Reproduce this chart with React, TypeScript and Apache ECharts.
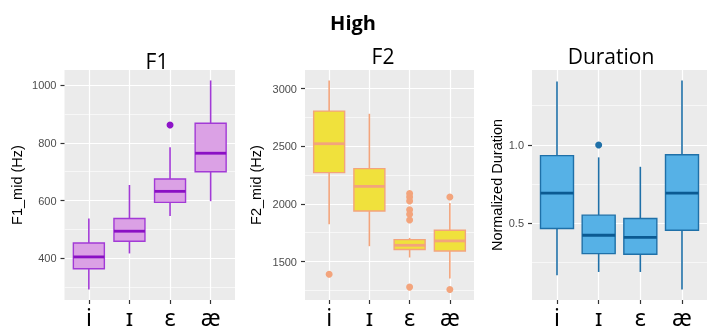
import React, { useEffect, useRef } from "react";
import * as echarts from "echarts";

const categories = ["i", "ɪ", "ɛ", "æ"];

// [min, Q1, median, Q3, max]
const f1Boxes = [
  [292, 364, 405, 453, 538],
  [417, 459, 494, 538, 654],
  [547, 594, 632, 675, 785],
  [598, 700, 764, 868, 1016],
];
const f1Outliers = [[2, 862]];
const f1Major = [400, 600, 800, 1000];
const f1Minor = [300, 500, 700, 900];

const f2Boxes = [
  [1823, 2271, 2522, 2805, 3071],
  [1633, 1938, 2152, 2306, 2782],
  [1535, 1604, 1641, 1690, 1705],
  [1353, 1592, 1679, 1771, 2008],
];
const f2Outliers = [
  [0, 1390],
  [2, 2090],
  [2, 2060],
  [2, 2025],
  [2, 1950],
  [2, 1910],
  [2, 1860],
  [2, 1278],
  [3, 2060],
  [3, 1257],
];
const f2Major = [1500, 2000, 2500, 3000];
const f2Minor = [1250, 1750, 2250, 2750];

const durBoxes = [
  [0.17, 0.468, 0.693, 0.932, 1.404],
  [0.191, 0.308, 0.425, 0.553, 0.921],
  [0.191, 0.304, 0.411, 0.532, 0.861],
  [0.079, 0.457, 0.693, 0.938, 1.411],
];
const durOutliers = [[1, 1.0]];
const durMajor = [0.5, 1.0];
const durMinor = [0.25, 0.75, 1.25];

const panels = [
  {
    title: "F1", titleX: 157, titleY: 61,
    yName: "F1_mid (Hz)", nameGap: 40,
    boxes: f1Boxes, outliers: f1Outliers, major: f1Major, minor: f1Minor,
    fmt: (v: number) => String(v),
    left: 64.5, width: 170.5, boxW: 31,
    fill: "#dba1e5", stroke: "#a23ad6", median: "#8a10c4", point: "#8e14c8",
  },
  {
    title: "F2", titleX: 383, titleY: 56,
    yName: "F2_mid (Hz)", nameGap: 42,
    boxes: f2Boxes, outliers: f2Outliers, major: f2Major, minor: f2Minor,
    fmt: (v: number) => String(v),
    left: 305, width: 169, boxW: 31,
    fill: "#f0e13c", stroke: "#f3a47c", median: "#f3a47c", point: "#f3a47c",
  },
  {
    title: "Duration", titleX: 611, titleY: 56,
    yName: "Normalized Duration", nameGap: 28,
    boxes: durBoxes, outliers: durOutliers, major: durMajor, minor: durMinor,
    fmt: (v: number) => v.toFixed(1),
    left: 532, width: 180.6, boxW: 33,
    fill: "#56b1e6", stroke: "#1f70a8", median: "#0b5a92", point: "#1f70a8",
  },
];

const TOP = 70;
const HEIGHT = 230;

function App() {
  const ref = useRef<HTMLDivElement>(null);
  useEffect(() => {
    if (!ref.current) return;
    const chart = echarts.init(ref.current, undefined, { renderer: "svg" });
    const grid: any[] = [];
    const xAxis: any[] = [];
    const yAxis: any[] = [];
    const series: any[] = [];
    const graphic: any[] = [
      {
        type: "text", x: 353, y: 22,
        style: { text: "High", align: "center", verticalAlign: "middle", font: "bold 20px 'Open Sans', sans-serif", fill: "#000" },
      },
    ];
    panels.forEach((p, k) => {
      const all: number[] = [];
      p.boxes.forEach((b) => all.push(...b));
      p.outliers.forEach((o) => all.push(o[1]));
      const lo = Math.min(...all);
      const hi = Math.max(...all);
      const pad = (hi - lo) * 0.05;
      const ymin = lo - pad;
      const ymax = hi + pad;
      grid.push({
        left: p.left, top: TOP, width: p.width, height: HEIGHT,
        show: true, backgroundColor: "#ebebeb", borderWidth: 0, containLabel: false,
      });
      xAxis.push({
        type: "value", gridIndex: k, min: -0.6, max: 3.6, position: "bottom",
        axisLine: { show: false, onZero: false },
        axisTick: { show: true, length: 4, lineStyle: { color: "#333", width: 1.2 }, customValues: [0, 1, 2, 3] },
        axisLabel: {
          customValues: [0, 1, 2, 3],
          formatter: (v: number) => categories[Math.round(v)],
          fontSize: 23, color: "#000", margin: 5, fontFamily: "'Noto Sans', sans-serif",
        },
        splitLine: { show: true, lineStyle: { color: "#fff", width: 1.2 } },
      });
      yAxis.push({
        type: "value", gridIndex: k, min: ymin, max: ymax, position: "left",
        name: p.yName, nameLocation: "middle", nameGap: p.nameGap,
        nameTextStyle: { fontSize: 14.5, color: "#000", fontFamily: "'Liberation Sans', Arial, sans-serif" },
        axisLine: { show: false, onZero: false },
        axisTick: { show: true, length: 4, lineStyle: { color: "#333", width: 1.2 }, customValues: p.major },
        axisLabel: {
          customValues: p.major, formatter: p.fmt,
          fontSize: 11, color: "#4d4d4d", margin: 8, fontFamily: "'Liberation Sans', Arial, sans-serif",
        },
        splitLine: { show: true, lineStyle: { color: "#fff", width: 1.2 } },
      });
      yAxis.push({
        type: "value", gridIndex: k, min: ymin, max: ymax, position: "left",
        axisLine: { show: false, onZero: false },
        axisTick: { show: false, customValues: p.minor },
        axisLabel: { show: false, customValues: p.minor },
        splitLine: { show: true, lineStyle: { color: "#fff", width: 0.6 } },
      });
      graphic.push({
        type: "text", x: p.titleX, y: p.titleY,
        style: { text: p.title, align: "center", verticalAlign: "middle", font: "21px 'Open Sans', sans-serif", fill: "#000" },
      });
      const hw = p.boxW / 2;
      series.push({
        type: "custom", xAxisIndex: k, yAxisIndex: 2 * k, z: 3,
        data: p.boxes.map((b, i) => [i, ...b]),
        encode: { x: 0, y: [1, 2, 3, 4, 5] },
        renderItem: (_params: any, api: any) => {
          const x = api.value(0);
          const pMin = api.coord([x, api.value(1)]);
          const pQ1 = api.coord([x, api.value(2)]);
          const pMed = api.coord([x, api.value(3)]);
          const pQ3 = api.coord([x, api.value(4)]);
          const pMax = api.coord([x, api.value(5)]);
          return {
            type: "group",
            children: [
              { type: "line", shape: { x1: pMin[0], y1: pMin[1], x2: pQ1[0], y2: pQ1[1] }, style: { stroke: p.stroke, lineWidth: 1.6 } },
              { type: "line", shape: { x1: pQ3[0], y1: pQ3[1], x2: pMax[0], y2: pMax[1] }, style: { stroke: p.stroke, lineWidth: 1.6 } },
              { type: "rect", shape: { x: pQ3[0] - hw, y: pQ3[1], width: 2 * hw, height: pQ1[1] - pQ3[1] }, style: { fill: p.fill, stroke: p.stroke, lineWidth: 1.4 } },
              { type: "line", shape: { x1: pMed[0] - hw, y1: pMed[1], x2: pMed[0] + hw, y2: pMed[1] }, style: { stroke: p.median, lineWidth: 2.8 } },
            ],
          };
        },
      });
      series.push({
        type: "scatter", xAxisIndex: k, yAxisIndex: 2 * k, z: 4,
        data: p.outliers, symbolSize: 7,
        itemStyle: { color: p.point, opacity: 1 },
      });
    });
    chart.setOption({
      animation: false,
      grid, xAxis, yAxis, series, graphic,
    });
    return () => chart.dispose();
  }, []);
  return <div ref={ref} style={{ position: "fixed", left: 0, top: 0, width: 707, height: 334 }} />;
}

export default App;
